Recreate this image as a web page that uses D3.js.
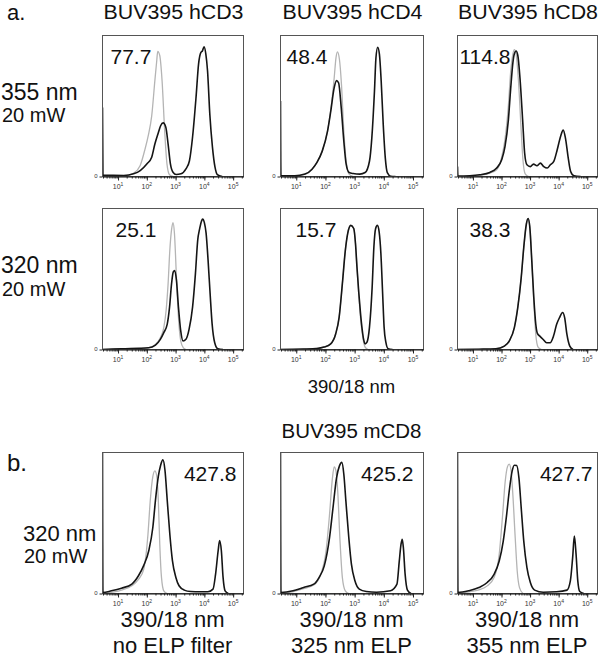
<!DOCTYPE html>
<html><head><meta charset="utf-8">
<script src="https://cdn.jsdelivr.net/npm/d3@7"></script>
<style>body{margin:0;background:#fff}svg{display:block}text{font-family:"Liberation Sans",Arial,Helvetica,sans-serif;fill:#111}</style>
</head><body><svg id="c" width="600" height="666"></svg>
<script>
// ---------- DATA ----------
const columnTitles = ["BUV395 hCD3", "BUV395 hCD4", "BUV395 hCD8"];
const rowLasers = ["355 nm", "320 nm", "320 nm"];
const rowPowers = ["20 mW", "20 mW", "20 mW"];
const stainIndex = [["77.7", "48.4", "114.8"], ["25.1", "15.7", "38.3"], ["427.8", "425.2", "427.7"]];
const bottomLabels = [["390/18 nm", "no ELP filter"], ["390/18 nm", "325 nm ELP"], ["390/18 nm", "355 nm ELP"]];
const decadeExponents = [1, 2, 3, 4, 5];
const yTicks = [0];

// histogram curves: [log10(intensity), % of max]
const cd3_355_ctrl = [[0.52,0],[1.20,0.2],[1.54,2.3],[1.77,7.8],[1.94,19.6],[2.05,29],[2.17,43],[2.28,68],[2.34,81],[2.38,88.8],[2.45,85.8],[2.53,68],[2.62,32.6],[2.70,9],[2.79,1.2],[2.91,0]];
const cd3_355_stain = [[0.46,49],[0.475,1],[1.2,0.7],[1.54,1.9],[1.77,4.2],[2.0,8.9],[2.17,13.7],[2.28,23],[2.40,31],[2.48,36],[2.57,38],[2.66,35],[2.74,23],[2.82,9],[2.91,3],[3.02,1.4],[3.19,1.9],[3.36,5.4],[3.48,11],[3.59,28],[3.71,56],[3.80,80],[3.88,88],[3.93,89],[3.99,92],[4.05,87],[4.11,75],[4.19,44],[4.28,21],[4.37,6.6],[4.45,1.4],[4.62,0]];
const cd4_355_ctrl = [[0.5,0],[0.95,0.3],[1.30,1.5],[1.54,5],[1.71,10],[1.89,18],[2.07,32],[2.18,47],[2.30,70],[2.36,84],[2.41,88.4],[2.48,83],[2.55,65],[2.63,32],[2.71,11],[2.81,1.7],[2.95,0]];
const cd4_355_stain = [[0.46,53.5],[0.475,0.5],[0.95,0.5],[1.30,1.7],[1.54,5.2],[1.71,10],[1.89,18],[2.07,32],[2.18,46],[2.30,63],[2.38,68],[2.45,66.5],[2.54,49],[2.63,25],[2.71,8.7],[2.81,2.8],[2.95,2.1],[3.18,1.7],[3.36,2.8],[3.51,11],[3.59,27.6],[3.68,60.6],[3.73,84],[3.79,91.7],[3.85,86.6],[3.91,67.7],[3.98,37],[4.05,13.4],[4.12,2.8],[4.24,0.2],[4.4,0]];
const cd8_355_ctrl = [[0.89,0],[1.59,2.4],[1.83,4.8],[2.01,14],[2.12,26],[2.24,50],[2.32,74],[2.40,87],[2.45,90],[2.51,87],[2.59,69],[2.68,36],[2.75,12],[2.83,1.9],[2.95,0]];
const cd8_355_stain = [[0.46,7],[0.475,0.3],[0.89,0.5],[1.24,1.2],[1.59,2.9],[1.83,6],[2.01,12],[2.12,21],[2.24,40],[2.32,62],[2.40,81],[2.45,87],[2.51,89],[2.57,86],[2.65,69],[2.74,40],[2.81,16.7],[2.89,8.3],[3.01,7],[3.12,8.8],[3.24,7.6],[3.36,9.5],[3.48,7],[3.60,6],[3.71,8.3],[3.83,10.7],[3.95,19],[4.07,28.6],[4.16,32.9],[4.24,27],[4.33,14],[4.42,3.6],[4.54,0.5],[4.77,0]];
const cd3_320_ctrl = [[0.46,0],[1.12,0.5],[1.71,0.7],[2.06,1.2],[2.30,3.6],[2.47,8.4],[2.59,15.5],[2.67,27.5],[2.74,46.7],[2.80,70.6],[2.86,85],[2.91,90],[2.96,82.5],[3.03,51.4],[3.10,22.7],[3.18,6],[3.27,1.2],[3.36,0]];
const cd3_320_stain = [[0.46,0],[1.12,0.5],[2.06,1.2],[2.30,3.1],[2.47,7.2],[2.59,12],[2.71,18],[2.79,30],[2.86,46.7],[2.92,55],[2.97,56],[3.03,49],[3.10,30],[3.18,13],[3.26,6],[3.36,7.2],[3.47,14.4],[3.59,30],[3.69,54],[3.77,77.8],[3.83,85],[3.90,91],[3.94,92.6],[4.00,90],[4.06,82.5],[4.13,63],[4.20,39.5],[4.27,18],[4.36,4.8],[4.47,0.5],[4.65,0]];
const cd4_320_ctrl = [[0.46,0],[1.25,0.3],[1.71,0.7],[1.95,1.7],[2.18,4],[2.35,11],[2.47,23],[2.58,46.7],[2.68,70],[2.76,82],[2.87,88],[2.97,85.8],[3.03,75],[3.08,58.5],[3.14,39.6],[3.20,23],[3.28,8.8],[3.36,1.7],[3.46,0]];
const cd4_320_stain = [[0.46,0],[1.25,0.3],[1.71,0.7],[1.95,1.7],[2.18,4],[2.35,11],[2.47,23],[2.58,46.7],[2.68,70],[2.76,82],[2.87,88],[2.97,85.8],[3.03,75],[3.08,58.5],[3.14,41],[3.20,26],[3.26,14],[3.31,7],[3.36,4],[3.42,5],[3.51,16],[3.60,44],[3.66,72.7],[3.72,85.8],[3.78,88],[3.84,83.4],[3.90,68],[3.96,39.6],[4.01,15.9],[4.07,5.2],[4.15,0.5],[4.3,0]];
const cd8_320_ctrl = [[0.46,0],[1.21,0.2],[1.80,0.5],[2.10,2.4],[2.27,6],[2.45,15.5],[2.57,29.8],[2.69,51],[2.78,72.6],[2.87,89],[2.93,92.9],[2.99,87],[3.06,63],[3.13,34.5],[3.20,10.7],[3.28,1.7],[3.40,0]];
const cd8_320_stain = [[0.46,0],[1.21,0.2],[1.80,0.5],[2.10,2.4],[2.27,6],[2.45,15.5],[2.57,29.8],[2.69,51],[2.78,72.6],[2.87,89],[2.93,92.9],[2.99,87],[3.06,63],[3.13,37],[3.20,17.9],[3.26,11.2],[3.34,9.5],[3.46,7.1],[3.58,4.8],[3.70,4.8],[3.82,9.5],[3.93,17.9],[4.03,22.6],[4.14,26.2],[4.21,22.6],[4.29,10.7],[4.39,2.4],[4.50,0]];
const mcd8_none_ctrl = [[0.48,0],[1.12,2.4],[1.48,5.5],[1.71,10],[1.89,17],[2.04,42],[2.12,66],[2.21,83],[2.28,87],[2.34,84],[2.40,66],[2.45,35],[2.51,11.4],[2.59,1.9],[2.71,0]];
const mcd8_none_stain = [[0.46,100],[0.475,0.7],[0.77,1.9],[1.12,3.8],[1.48,6.7],[1.71,12.6],[1.89,19.8],[2.07,30.5],[2.21,47],[2.30,66],[2.40,83],[2.48,91],[2.56,94.8],[2.63,87.6],[2.71,66],[2.80,42],[2.89,23.3],[3.01,11.4],[3.12,5.5],[3.30,2.4],[3.53,1.4],[3.83,1.2],[4.12,1.2],[4.30,3.1],[4.39,13.8],[4.48,30.5],[4.53,37.6],[4.59,30.5],[4.65,11.4],[4.72,1.9],[4.83,0]];
const mcd8_325_ctrl = [[0.46,0],[0.89,1.4],[1.25,3.5],[1.60,6],[1.84,13.7],[2.02,30],[2.14,56],[2.24,82],[2.30,89.8],[2.36,87],[2.42,72.8],[2.50,37],[2.58,11.3],[2.68,1.9],[2.80,0]];
const mcd8_325_stain = [[0.46,100],[0.475,0.7],[0.89,1.9],[1.25,4.3],[1.60,6.6],[1.78,11.3],[1.96,19.6],[2.14,39.7],[2.26,61],[2.38,82],[2.48,90.5],[2.56,93],[2.63,84.6],[2.70,65.7],[2.80,39.7],[2.89,20.8],[3.01,9],[3.16,3.1],[3.40,1.4],[3.75,0.9],[4.23,1.9],[4.45,6.6],[4.53,23],[4.59,35],[4.63,38.5],[4.67,32.6],[4.73,13.7],[4.81,2.4],[4.93,0]];
const mcd8_355_ctrl = [[0.46,0],[0.85,1.2],[1.21,2.6],[1.50,5.4],[1.74,11.3],[1.92,27.8],[2.04,56],[2.13,79.5],[2.21,90],[2.27,91.8],[2.33,87.8],[2.39,72.5],[2.48,39.5],[2.55,16],[2.63,4.2],[2.75,0]];
const mcd8_355_stain = [[0.46,100],[0.475,0.7],[0.85,1.9],[1.21,4.2],[1.50,7.8],[1.74,13.6],[1.92,23],[2.06,37],[2.18,56],[2.27,72.5],[2.37,86.6],[2.45,91],[2.53,90.8],[2.61,82],[2.69,60.7],[2.78,37],[2.89,18.4],[3.01,7.8],[3.16,2.4],[3.46,0.9],[3.93,1.2],[4.29,2.4],[4.41,9],[4.49,25.4],[4.55,40.7],[4.61,27.8],[4.67,9],[4.74,1.4],[4.88,0]];

const panelCurves = [
  [cd3_355_ctrl, cd3_355_stain], [cd4_355_ctrl, cd4_355_stain], [cd8_355_ctrl, cd8_355_stain],
  [cd3_320_ctrl, cd3_320_stain], [cd4_320_ctrl, cd4_320_stain], [cd8_320_ctrl, cd8_320_stain],
  [mcd8_none_ctrl, mcd8_none_stain], [mcd8_325_ctrl, mcd8_325_stain], [mcd8_355_ctrl, mcd8_355_stain]
];

// ---------- LAYOUT ----------
const colX = [102, 280, 457], colW = [141, 143, 140];
const rowY = [35, 208, 452], rowH = 141;
const logDomain = [0.46, 5.36];
const valueDx = [[8, 6, 2], [13, 15, 12], [-7, -10, -5]];
const FONT = '"Liberation Sans",Arial,Helvetica,sans-serif';

const svg = d3.select("#c");
const defs = svg.append("defs");

panelCurves.forEach((curves, i) => {
  const r = Math.floor(i / 3), c = i % 3;
  const x0 = colX[c] + 0.5, w = colW[c], y0 = rowY[r] + 0.5, h = rowH;
  const x = d3.scaleLog().domain(logDomain.map(v => Math.pow(10, v))).range([x0, x0 + w]);
  const y = d3.scaleLinear().domain([0, 100]).range([y0 + h, y0]);
  const g = svg.append("g");

  defs.append("clipPath").attr("id", "clip" + i)
    .append("rect").attr("x", x0).attr("y", y0 - 0.5).attr("width", w).attr("height", h + 0.5);

  const line = d3.line().x(d => x(Math.pow(10, d[0]))).y(d => y(d[1])).curve(d3.curveMonotoneX);
  const cg = g.append("g").attr("clip-path", `url(#clip${i})`);
  cg.append("path").datum(curves[0]).attr("d", line)
    .attr("fill", "none").attr("stroke", "#b4b4b4").attr("stroke-width", 1.3);
  cg.append("path").datum(curves[1]).attr("d", line)
    .attr("fill", "none").attr("stroke", "#151515").attr("stroke-width", 1.6);

  // frame
  g.append("rect").attr("x", x0).attr("y", y0).attr("width", w).attr("height", h)
    .attr("fill", "none").attr("stroke", "#555").attr("stroke-width", 1);

  // x axis: minor + major ticks
  const [lo, hi] = x.domain();
  const minor = [];
  for (let e = 0; e <= 5; e++) for (let k = 1; k <= 9; k++) {
    const v = k * Math.pow(10, e);
    if (v >= lo && v <= hi) minor.push(v);
  }
  const ax1 = g.append("g").attr("transform", `translate(0,${y0 + h})`)
    .call(d3.axisBottom(x).tickValues(minor).tickSize(2).tickSizeOuter(0).tickFormat(""));
  ax1.select(".domain").attr("stroke", "#111");
  ax1.selectAll(".tick line").attr("stroke", "#222");
  const ax2 = g.append("g").attr("transform", `translate(0,${y0 + h})`)
    .call(d3.axisBottom(x).tickValues(decadeExponents.map(e => Math.pow(10, e))).tickSize(4).tickFormat(""));
  ax2.select(".domain").remove();
  ax2.selectAll(".tick line").attr("stroke", "#222");

  // decade labels with superscripts
  decadeExponents.forEach(e => {
    const t = g.append("text").attr("x", x(Math.pow(10, e))).attr("y", y0 + h + 12)
      .attr("text-anchor", "middle").attr("font-size", 7).style("fill", "#333");
    t.append("tspan").text("10");
    t.append("tspan").attr("font-size", 5).attr("dy", -3).text(String(e));
  });

  // y axis tick at 0
  const ay = g.append("g").attr("transform", `translate(${x0},0)`)
    .call(d3.axisLeft(y).tickValues(yTicks).tickSize(3).tickPadding(2).tickFormat(d => String(d)));
  ay.select(".domain").remove();
  ay.selectAll(".tick line").attr("stroke", "#222");
  ay.selectAll(".tick text").attr("font-size", 6).attr("font-family", FONT).style("fill", "#333").attr("dy", "0.1em");

  // stain index value
  const dx = valueDx[r][c];
  g.append("text")
    .attr("x", dx >= 0 ? x0 + dx : x0 + w + dx)
    .attr("y", y0 + 28)
    .attr("text-anchor", dx >= 0 ? "start" : "end")
    .attr("font-size", 21)
    .text(stainIndex[r][c]);
});

// column titles
columnTitles.forEach((t, c) => {
  svg.append("text").attr("x", colX[c] + colW[c] / 2 + 1).attr("y", 19)
    .attr("text-anchor", "middle").attr("font-size", 20)
    .attr("textLength", 140).attr("lengthAdjust", "spacingAndGlyphs").text(t);
});

// panel letters
svg.append("text").attr("x", 7).attr("y", 20).attr("font-size", 22).text("a.");
svg.append("text").attr("x", 7).attr("y", 471).attr("font-size", 24).text("b.");

// row labels
const rowLabelPos = [[1, 100, 122], [1, 273, 296], [23, 541, 563]];
rowLasers.forEach((t, r) => {
  const [lx, ly1, ly2] = rowLabelPos[r];
  svg.append("text").attr("x", lx).attr("y", ly1).attr("font-size", r === 2 ? 22 : 23).text(t);
  svg.append("text").attr("x", lx + 1).attr("y", ly2).attr("font-size", 20).text(rowPowers[r]);
});

// middle labels
svg.append("text").attr("x", colX[1] + colW[1] / 2).attr("y", 393)
  .attr("text-anchor", "middle").attr("font-size", 18.5).text("390/18 nm");
svg.append("text").attr("x", colX[1] + colW[1] / 2).attr("y", 438)
  .attr("text-anchor", "middle").attr("font-size", 20)
  .attr("textLength", 140).attr("lengthAdjust", "spacingAndGlyphs").text("BUV395 mCD8");

// bottom labels
bottomLabels.forEach((lines, c) => {
  lines.forEach((t, k) => {
    svg.append("text").attr("x", colX[c] + colW[c] / 2).attr("y", 627 + k * 26)
      .attr("text-anchor", "middle").attr("font-size", 22).text(t);
  });
});
</script></body></html>
